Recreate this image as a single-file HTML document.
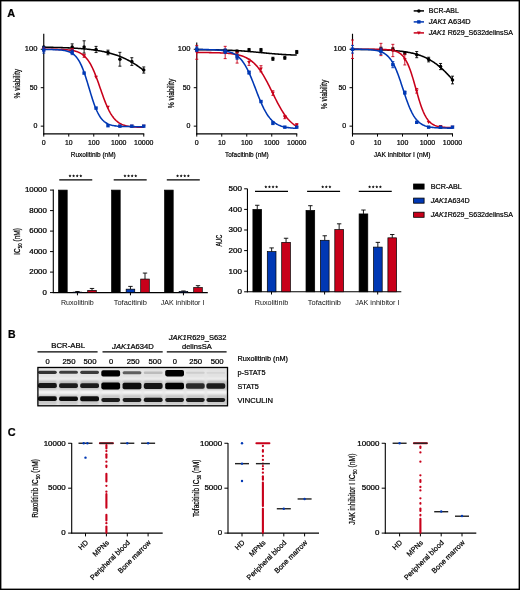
<!DOCTYPE html>
<html><head><meta charset="utf-8"><style>
html,body{margin:0;padding:0;background:#fff;}
svg{display:block;font-family:"Liberation Sans",sans-serif;will-change:transform;}
text{fill:#000;stroke:#000;stroke-width:0.22px;}
text.lt{fill:#111;stroke-width:0;}
</style></head><body>
<svg width="520" height="590" viewBox="0 0 520 590">
<rect width="520" height="590" fill="#fff"/>
<rect x="0.7" y="0.7" width="518.6" height="588.6" fill="none" stroke="#000" stroke-width="1.4"/>
<text x="7.30" y="16.90" font-size="10.9" font-weight="bold" fill="#000" >A</text>
<text x="8.00" y="338.00" font-size="10.5" font-weight="bold" fill="#000" >B</text>
<text x="7.70" y="435.70" font-size="10.9" font-weight="bold" fill="#000" >C</text>
<line x1="43.75" y1="33.75" x2="43.75" y2="134.45" stroke="#000" stroke-width="1.15" />
<line x1="43.20" y1="133.90" x2="144.25" y2="133.90" stroke="#000" stroke-width="1.15" />
<line x1="40.75" y1="126.15" x2="43.75" y2="126.15" stroke="#000" stroke-width="1.0" />
<text x="37.45" y="128.20" font-size="6.95" text-anchor="end" textLength="3.90" lengthAdjust="spacingAndGlyphs" fill="#1a1a1a" >0</text>
<line x1="40.75" y1="87.70" x2="43.75" y2="87.70" stroke="#000" stroke-width="1.0" />
<text x="37.45" y="89.75" font-size="6.95" text-anchor="end" textLength="7.80" lengthAdjust="spacingAndGlyphs" fill="#1a1a1a" >50</text>
<line x1="40.75" y1="49.25" x2="43.75" y2="49.25" stroke="#000" stroke-width="1.0" />
<text x="37.45" y="51.30" font-size="6.95" text-anchor="end" textLength="12.60" lengthAdjust="spacingAndGlyphs" fill="#1a1a1a" >100</text>
<line x1="43.75" y1="133.90" x2="43.75" y2="136.60" stroke="#000" stroke-width="1.0" />
<text x="43.75" y="145.45" font-size="6.95" text-anchor="middle" textLength="3.90" lengthAdjust="spacingAndGlyphs" fill="#1a1a1a" >0</text>
<line x1="68.75" y1="133.90" x2="68.75" y2="136.60" stroke="#000" stroke-width="1.0" />
<text x="68.75" y="145.45" font-size="6.95" text-anchor="middle" textLength="7.60" lengthAdjust="spacingAndGlyphs" fill="#1a1a1a" >10</text>
<line x1="93.75" y1="133.90" x2="93.75" y2="136.60" stroke="#000" stroke-width="1.0" />
<text x="93.75" y="145.45" font-size="6.95" text-anchor="middle" textLength="11.60" lengthAdjust="spacingAndGlyphs" fill="#1a1a1a" >100</text>
<line x1="118.75" y1="133.90" x2="118.75" y2="136.60" stroke="#000" stroke-width="1.0" />
<text x="118.75" y="145.45" font-size="6.95" text-anchor="middle" textLength="15.50" lengthAdjust="spacingAndGlyphs" fill="#1a1a1a" >1000</text>
<line x1="143.75" y1="133.90" x2="143.75" y2="136.60" stroke="#000" stroke-width="1.0" />
<text x="143.75" y="145.45" font-size="6.95" text-anchor="middle" textLength="19.30" lengthAdjust="spacingAndGlyphs" fill="#1a1a1a" >10000</text>
<text x="93.25" y="157.30" font-size="7.7" text-anchor="middle" textLength="45.00" lengthAdjust="spacingAndGlyphs" fill="#1a1a1a" >Ruxolitinib (nM)</text>
<text x="19.70" y="83.70" font-size="8.9" text-anchor="middle" textLength="29.60" lengthAdjust="spacingAndGlyphs" fill="#1a1a1a" transform="rotate(-90 19.70 83.70)" >% viability</text>
<path d="M43.75,47.23 L44.59,47.24 L45.43,47.26 L46.27,47.27 L47.11,47.28 L47.95,47.30 L48.79,47.31 L49.63,47.33 L50.47,47.34 L51.31,47.36 L52.15,47.37 L52.99,47.39 L53.83,47.41 L54.67,47.43 L55.51,47.45 L56.36,47.47 L57.20,47.49 L58.04,47.51 L58.88,47.53 L59.72,47.56 L60.56,47.58 L61.40,47.61 L62.24,47.64 L63.08,47.66 L63.92,47.69 L64.76,47.72 L65.60,47.75 L66.44,47.79 L67.28,47.82 L68.12,47.86 L68.96,47.89 L69.80,47.93 L70.64,47.97 L71.48,48.01 L72.32,48.05 L73.16,48.10 L74.00,48.14 L74.84,48.19 L75.68,48.24 L76.52,48.30 L77.36,48.35 L78.20,48.41 L79.04,48.46 L79.88,48.52 L80.72,48.59 L81.57,48.65 L82.41,48.72 L83.25,48.79 L84.09,48.86 L84.93,48.94 L85.77,49.02 L86.61,49.10 L87.45,49.19 L88.29,49.28 L89.13,49.37 L89.97,49.46 L90.81,49.56 L91.65,49.66 L92.49,49.77 L93.33,49.88 L94.17,50.00 L95.01,50.12 L95.85,50.24 L96.69,50.37 L97.53,50.50 L98.37,50.64 L99.21,50.78 L100.05,50.93 L100.89,51.08 L101.73,51.24 L102.57,51.41 L103.41,51.58 L104.25,51.76 L105.09,51.94 L105.93,52.13 L106.78,52.33 L107.62,52.53 L108.46,52.74 L109.30,52.96 L110.14,53.18 L110.98,53.42 L111.82,53.66 L112.66,53.91 L113.50,54.16 L114.34,54.43 L115.18,54.70 L116.02,54.99 L116.86,55.28 L117.70,55.58 L118.54,55.89 L119.38,56.22 L120.22,56.55 L121.06,56.89 L121.90,57.24 L122.74,57.60 L123.58,57.98 L124.42,58.36 L125.26,58.76 L126.10,59.16 L126.94,59.58 L127.78,60.01 L128.62,60.45 L129.46,60.90 L130.30,61.37 L131.14,61.84 L131.99,62.33 L132.83,62.83 L133.67,63.34 L134.51,63.87 L135.35,64.40 L136.19,64.95 L137.03,65.51 L137.87,66.09 L138.71,66.67 L139.55,67.27 L140.39,67.87 L141.23,68.49 L142.07,69.13 L142.91,69.77 L143.75,70.42" fill="none" stroke="#000" stroke-width="1.55"/>
<path d="M43.75,49.27 L44.59,49.27 L45.43,49.27 L46.27,49.28 L47.11,49.28 L47.95,49.28 L48.79,49.29 L49.63,49.29 L50.47,49.30 L51.31,49.31 L52.15,49.31 L52.99,49.32 L53.83,49.33 L54.67,49.34 L55.51,49.36 L56.36,49.37 L57.20,49.39 L58.04,49.40 L58.88,49.42 L59.72,49.45 L60.56,49.47 L61.40,49.50 L62.24,49.53 L63.08,49.57 L63.92,49.61 L64.76,49.66 L65.60,49.71 L66.44,49.78 L67.28,49.84 L68.12,49.92 L68.96,50.01 L69.80,50.11 L70.64,50.22 L71.48,50.35 L72.32,50.49 L73.16,50.65 L74.00,50.83 L74.84,51.04 L75.68,51.27 L76.52,51.52 L77.36,51.81 L78.20,52.14 L79.04,52.51 L79.88,52.92 L80.72,53.37 L81.57,53.89 L82.41,54.46 L83.25,55.09 L84.09,55.80 L84.93,56.59 L85.77,57.45 L86.61,58.41 L87.45,59.46 L88.29,60.61 L89.13,61.87 L89.97,63.24 L90.81,64.72 L91.65,66.31 L92.49,68.03 L93.33,69.85 L94.17,71.79 L95.01,73.83 L95.85,75.96 L96.69,78.19 L97.53,80.48 L98.37,82.83 L99.21,85.23 L100.05,87.65 L100.89,90.07 L101.73,92.48 L102.57,94.86 L103.41,97.19 L104.25,99.45 L105.09,101.64 L105.93,103.74 L106.78,105.74 L107.62,107.63 L108.46,109.41 L109.30,111.07 L110.14,112.62 L110.98,114.06 L111.82,115.38 L112.66,116.59 L113.50,117.70 L114.34,118.71 L115.18,119.63 L116.02,120.46 L116.86,121.22 L117.70,121.89 L118.54,122.50 L119.38,123.05 L120.22,123.54 L121.06,123.98 L121.90,124.37 L122.74,124.72 L123.58,125.03 L124.42,125.30 L125.26,125.55 L126.10,125.77 L126.94,125.96 L127.78,126.14 L128.62,126.29 L129.46,126.42 L130.30,126.54 L131.14,126.65 L131.99,126.75 L132.83,126.83 L133.67,126.90 L134.51,126.97 L135.35,127.03 L136.19,127.08 L137.03,127.12 L137.87,127.16 L138.71,127.20 L139.55,127.23 L140.39,127.26 L141.23,127.28 L142.07,127.30 L142.91,127.32 L143.75,127.34" fill="none" stroke="#c8001a" stroke-width="1.55"/>
<path d="M43.75,49.51 L44.59,49.51 L45.43,49.52 L46.27,49.53 L47.11,49.53 L47.95,49.54 L48.79,49.55 L49.63,49.56 L50.47,49.57 L51.31,49.59 L52.15,49.60 L52.99,49.62 L53.83,49.65 L54.67,49.67 L55.51,49.70 L56.36,49.74 L57.20,49.78 L58.04,49.82 L58.88,49.88 L59.72,49.94 L60.56,50.01 L61.40,50.10 L62.24,50.19 L63.08,50.30 L63.92,50.43 L64.76,50.58 L65.60,50.75 L66.44,50.95 L67.28,51.17 L68.12,51.43 L68.96,51.73 L69.80,52.07 L70.64,52.47 L71.48,52.92 L72.32,53.43 L73.16,54.02 L74.00,54.69 L74.84,55.44 L75.68,56.30 L76.52,57.27 L77.36,58.36 L78.20,59.57 L79.04,60.93 L79.88,62.43 L80.72,64.09 L81.57,65.90 L82.41,67.87 L83.25,70.00 L84.09,72.28 L84.93,74.70 L85.77,77.25 L86.61,79.90 L87.45,82.64 L88.29,85.43 L89.13,88.25 L89.97,91.07 L90.81,93.86 L91.65,96.59 L92.49,99.23 L93.33,101.76 L94.17,104.17 L95.01,106.43 L95.85,108.54 L96.69,110.49 L97.53,112.28 L98.37,113.92 L99.21,115.40 L100.05,116.74 L100.89,117.94 L101.73,119.01 L102.57,119.96 L103.41,120.81 L104.25,121.55 L105.09,122.21 L105.93,122.79 L106.78,123.29 L107.62,123.74 L108.46,124.12 L109.30,124.46 L110.14,124.75 L110.98,125.01 L111.82,125.23 L112.66,125.42 L113.50,125.59 L114.34,125.74 L115.18,125.86 L116.02,125.97 L116.86,126.07 L117.70,126.15 L118.54,126.22 L119.38,126.28 L120.22,126.33 L121.06,126.38 L121.90,126.42 L122.74,126.45 L123.58,126.48 L124.42,126.51 L125.26,126.53 L126.10,126.55 L126.94,126.57 L127.78,126.58 L128.62,126.59 L129.46,126.60 L130.30,126.61 L131.14,126.62 L131.99,126.63 L132.83,126.63 L133.67,126.64 L134.51,126.64 L135.35,126.65 L136.19,126.65 L137.03,126.65 L137.87,126.65 L138.71,126.66 L139.55,126.66 L140.39,126.66 L141.23,126.66 L142.07,126.66 L142.91,126.66 L143.75,126.66" fill="none" stroke="#0038b4" stroke-width="1.55"/>
<circle cx="43.75" cy="46.94" r="1.75" fill="#000"/>
<path d="M72.17,43.87V50.02M70.67,43.87h3M70.67,50.02h3" stroke="#000" stroke-width="0.9" fill="none"/>
<circle cx="72.17" cy="46.94" r="1.75" fill="#000"/>
<path d="M84.10,40.79V53.09M82.60,40.79h3M82.60,53.09h3" stroke="#000" stroke-width="0.9" fill="none"/>
<circle cx="84.10" cy="46.94" r="1.75" fill="#000"/>
<path d="M96.05,46.40V52.56M94.55,46.40h3M94.55,52.56h3" stroke="#000" stroke-width="0.9" fill="none"/>
<circle cx="96.05" cy="49.48" r="1.75" fill="#000"/>
<path d="M107.97,50.17V54.79M106.47,50.17h3M106.47,54.79h3" stroke="#000" stroke-width="0.9" fill="none"/>
<circle cx="107.97" cy="52.48" r="1.75" fill="#000"/>
<path d="M119.90,52.33V66.17M118.40,52.33h3M118.40,66.17h3" stroke="#000" stroke-width="0.9" fill="none"/>
<circle cx="119.90" cy="59.25" r="1.75" fill="#000"/>
<path d="M131.82,57.71V65.40M130.32,57.71h3M130.32,65.40h3" stroke="#000" stroke-width="0.9" fill="none"/>
<circle cx="131.82" cy="61.55" r="1.75" fill="#000"/>
<path d="M143.75,66.94V73.09M142.25,66.94h3M142.25,73.09h3" stroke="#000" stroke-width="0.9" fill="none"/>
<circle cx="143.75" cy="70.01" r="1.75" fill="#000"/>
<path d="M43.75,47.71V50.79M42.25,47.71h3M42.25,50.79h3" stroke="#c8001a" stroke-width="0.9" fill="none"/>
<path d="M41.85,47.95h3.8l-1.9,3.1z" fill="#c8001a"/>
<path d="M72.17,48.48V51.56M70.67,48.48h3M70.67,51.56h3" stroke="#c8001a" stroke-width="0.9" fill="none"/>
<path d="M70.27,48.72h3.8l-1.9,3.1z" fill="#c8001a"/>
<path d="M84.10,54.25V57.32M82.60,54.25h3M82.60,57.32h3" stroke="#c8001a" stroke-width="0.9" fill="none"/>
<path d="M82.20,54.49h3.8l-1.9,3.1z" fill="#c8001a"/>
<path d="M94.15,75.79h3.8l-1.9,3.1z" fill="#c8001a"/>
<path d="M106.07,105.63h3.8l-1.9,3.1z" fill="#c8001a"/>
<path d="M118.00,124.85h3.8l-1.9,3.1z" fill="#c8001a"/>
<path d="M129.92,124.85h3.8l-1.9,3.1z" fill="#c8001a"/>
<path d="M141.85,124.85h3.8l-1.9,3.1z" fill="#c8001a"/>
<path d="M43.75,46.94V53.09M42.25,46.94h3M42.25,53.09h3" stroke="#0038b4" stroke-width="0.9" fill="none"/>
<rect x="42.05" y="48.32" width="3.4" height="3.4" fill="#0038b4"/>
<path d="M72.17,50.02V54.63M70.67,50.02h3M70.67,54.63h3" stroke="#0038b4" stroke-width="0.9" fill="none"/>
<rect x="70.47" y="50.63" width="3.4" height="3.4" fill="#0038b4"/>
<rect x="82.40" y="71.39" width="3.4" height="3.4" fill="#0038b4"/>
<rect x="94.35" y="106.38" width="3.4" height="3.4" fill="#0038b4"/>
<rect x="106.27" y="123.99" width="3.4" height="3.4" fill="#0038b4"/>
<rect x="118.20" y="124.45" width="3.4" height="3.4" fill="#0038b4"/>
<rect x="130.12" y="124.45" width="3.4" height="3.4" fill="#0038b4"/>
<rect x="142.05" y="124.45" width="3.4" height="3.4" fill="#0038b4"/>
<line x1="196.75" y1="42.50" x2="196.75" y2="134.45" stroke="#000" stroke-width="1.15" />
<line x1="196.20" y1="133.90" x2="297.25" y2="133.90" stroke="#000" stroke-width="1.15" />
<line x1="193.75" y1="126.15" x2="196.75" y2="126.15" stroke="#000" stroke-width="1.0" />
<text x="190.45" y="128.20" font-size="6.95" text-anchor="end" textLength="3.90" lengthAdjust="spacingAndGlyphs" fill="#1a1a1a" >0</text>
<line x1="193.75" y1="87.70" x2="196.75" y2="87.70" stroke="#000" stroke-width="1.0" />
<text x="190.45" y="89.75" font-size="6.95" text-anchor="end" textLength="7.80" lengthAdjust="spacingAndGlyphs" fill="#1a1a1a" >50</text>
<line x1="193.75" y1="49.25" x2="196.75" y2="49.25" stroke="#000" stroke-width="1.0" />
<text x="190.45" y="51.30" font-size="6.95" text-anchor="end" textLength="12.60" lengthAdjust="spacingAndGlyphs" fill="#1a1a1a" >100</text>
<line x1="196.75" y1="133.90" x2="196.75" y2="136.60" stroke="#000" stroke-width="1.0" />
<text x="196.75" y="145.45" font-size="6.95" text-anchor="middle" textLength="3.90" lengthAdjust="spacingAndGlyphs" fill="#1a1a1a" >0</text>
<line x1="221.75" y1="133.90" x2="221.75" y2="136.60" stroke="#000" stroke-width="1.0" />
<text x="221.75" y="145.45" font-size="6.95" text-anchor="middle" textLength="7.60" lengthAdjust="spacingAndGlyphs" fill="#1a1a1a" >10</text>
<line x1="246.75" y1="133.90" x2="246.75" y2="136.60" stroke="#000" stroke-width="1.0" />
<text x="246.75" y="145.45" font-size="6.95" text-anchor="middle" textLength="11.60" lengthAdjust="spacingAndGlyphs" fill="#1a1a1a" >100</text>
<line x1="271.75" y1="133.90" x2="271.75" y2="136.60" stroke="#000" stroke-width="1.0" />
<text x="271.75" y="145.45" font-size="6.95" text-anchor="middle" textLength="15.50" lengthAdjust="spacingAndGlyphs" fill="#1a1a1a" >1000</text>
<line x1="296.75" y1="133.90" x2="296.75" y2="136.60" stroke="#000" stroke-width="1.0" />
<text x="296.75" y="145.45" font-size="6.95" text-anchor="middle" textLength="19.30" lengthAdjust="spacingAndGlyphs" fill="#1a1a1a" >10000</text>
<text x="246.90" y="157.30" font-size="7.7" text-anchor="middle" textLength="43.75" lengthAdjust="spacingAndGlyphs" fill="#1a1a1a" >Tofacitinib (nM)</text>
<text x="174.00" y="93.50" font-size="8.9" text-anchor="middle" textLength="29.60" lengthAdjust="spacingAndGlyphs" fill="#1a1a1a" transform="rotate(-90 174.00 93.50)" >% viability</text>
<path d="M196.75,49.59 L197.59,49.60 L198.43,49.60 L199.27,49.61 L200.11,49.62 L200.95,49.62 L201.79,49.63 L202.63,49.64 L203.47,49.65 L204.31,49.66 L205.15,49.66 L205.99,49.67 L206.83,49.68 L207.67,49.70 L208.51,49.71 L209.36,49.72 L210.20,49.73 L211.04,49.74 L211.88,49.76 L212.72,49.77 L213.56,49.79 L214.40,49.80 L215.24,49.82 L216.08,49.84 L216.92,49.85 L217.76,49.87 L218.60,49.89 L219.44,49.91 L220.28,49.93 L221.12,49.96 L221.96,49.98 L222.80,50.01 L223.64,50.03 L224.48,50.06 L225.32,50.09 L226.16,50.12 L227.00,50.15 L227.84,50.18 L228.68,50.21 L229.52,50.25 L230.36,50.28 L231.20,50.32 L232.04,50.36 L232.88,50.40 L233.72,50.44 L234.57,50.49 L235.41,50.53 L236.25,50.58 L237.09,50.63 L237.93,50.68 L238.77,50.73 L239.61,50.78 L240.45,50.84 L241.29,50.89 L242.13,50.95 L242.97,51.01 L243.81,51.07 L244.65,51.14 L245.49,51.20 L246.33,51.27 L247.17,51.34 L248.01,51.40 L248.85,51.48 L249.69,51.55 L250.53,51.62 L251.37,51.70 L252.21,51.77 L253.05,51.85 L253.89,51.92 L254.73,52.00 L255.57,52.08 L256.41,52.16 L257.25,52.24 L258.09,52.32 L258.93,52.41 L259.78,52.49 L260.62,52.57 L261.46,52.65 L262.30,52.73 L263.14,52.81 L263.98,52.89 L264.82,52.98 L265.66,53.06 L266.50,53.13 L267.34,53.21 L268.18,53.29 L269.02,53.37 L269.86,53.44 L270.70,53.52 L271.54,53.59 L272.38,53.67 L273.22,53.74 L274.06,53.81 L274.90,53.87 L275.74,53.94 L276.58,54.01 L277.42,54.07 L278.26,54.13 L279.10,54.19 L279.94,54.25 L280.78,54.31 L281.62,54.36 L282.46,54.42 L283.30,54.47 L284.14,54.52 L284.99,54.57 L285.83,54.62 L286.67,54.66 L287.51,54.71 L288.35,54.75 L289.19,54.79 L290.03,54.83 L290.87,54.87 L291.71,54.90 L292.55,54.94 L293.39,54.97 L294.23,55.01 L295.07,55.04 L295.91,55.07 L296.75,55.10" fill="none" stroke="#000" stroke-width="1.55"/>
<path d="M196.75,52.52 L197.59,52.52 L198.43,52.52 L199.27,52.53 L200.11,52.53 L200.95,52.54 L201.79,52.54 L202.63,52.55 L203.47,52.55 L204.31,52.56 L205.15,52.57 L205.99,52.57 L206.83,52.58 L207.67,52.59 L208.51,52.60 L209.36,52.61 L210.20,52.62 L211.04,52.64 L211.88,52.65 L212.72,52.67 L213.56,52.68 L214.40,52.70 L215.24,52.72 L216.08,52.74 L216.92,52.76 L217.76,52.79 L218.60,52.82 L219.44,52.85 L220.28,52.88 L221.12,52.91 L221.96,52.95 L222.80,52.99 L223.64,53.04 L224.48,53.09 L225.32,53.14 L226.16,53.20 L227.00,53.26 L227.84,53.33 L228.68,53.41 L229.52,53.49 L230.36,53.58 L231.20,53.68 L232.04,53.78 L232.88,53.90 L233.72,54.02 L234.57,54.15 L235.41,54.30 L236.25,54.46 L237.09,54.63 L237.93,54.82 L238.77,55.02 L239.61,55.24 L240.45,55.47 L241.29,55.73 L242.13,56.00 L242.97,56.30 L243.81,56.63 L244.65,56.98 L245.49,57.35 L246.33,57.76 L247.17,58.19 L248.01,58.66 L248.85,59.17 L249.69,59.71 L250.53,60.29 L251.37,60.92 L252.21,61.58 L253.05,62.29 L253.89,63.05 L254.73,63.86 L255.57,64.72 L256.41,65.63 L257.25,66.60 L258.09,67.62 L258.93,68.70 L259.78,69.83 L260.62,71.02 L261.46,72.26 L262.30,73.56 L263.14,74.92 L263.98,76.32 L264.82,77.78 L265.66,79.28 L266.50,80.82 L267.34,82.41 L268.18,84.03 L269.02,85.68 L269.86,87.35 L270.70,89.04 L271.54,90.74 L272.38,92.46 L273.22,94.17 L274.06,95.87 L274.90,97.57 L275.74,99.24 L276.58,100.90 L277.42,102.52 L278.26,104.11 L279.10,105.66 L279.94,107.17 L280.78,108.63 L281.62,110.05 L282.46,111.41 L283.30,112.72 L284.14,113.97 L284.99,115.17 L285.83,116.31 L286.67,117.40 L287.51,118.43 L288.35,119.40 L289.19,120.32 L290.03,121.19 L290.87,122.01 L291.71,122.78 L292.55,123.50 L293.39,124.17 L294.23,124.80 L295.07,125.39 L295.91,125.94 L296.75,126.45" fill="none" stroke="#c8001a" stroke-width="1.55"/>
<path d="M196.75,49.51 L197.59,49.52 L198.43,49.52 L199.27,49.53 L200.11,49.53 L200.95,49.54 L201.79,49.55 L202.63,49.55 L203.47,49.56 L204.31,49.57 L205.15,49.58 L205.99,49.59 L206.83,49.61 L207.67,49.62 L208.51,49.64 L209.36,49.66 L210.20,49.68 L211.04,49.70 L211.88,49.72 L212.72,49.75 L213.56,49.78 L214.40,49.82 L215.24,49.86 L216.08,49.90 L216.92,49.95 L217.76,50.01 L218.60,50.07 L219.44,50.14 L220.28,50.21 L221.12,50.30 L221.96,50.40 L222.80,50.50 L223.64,50.62 L224.48,50.75 L225.32,50.90 L226.16,51.06 L227.00,51.24 L227.84,51.44 L228.68,51.67 L229.52,51.91 L230.36,52.19 L231.20,52.50 L232.04,52.83 L232.88,53.21 L233.72,53.62 L234.57,54.08 L235.41,54.59 L236.25,55.14 L237.09,55.75 L237.93,56.42 L238.77,57.16 L239.61,57.96 L240.45,58.84 L241.29,59.80 L242.13,60.83 L242.97,61.96 L243.81,63.17 L244.65,64.47 L245.49,65.86 L246.33,67.35 L247.17,68.93 L248.01,70.60 L248.85,72.37 L249.69,74.21 L250.53,76.14 L251.37,78.13 L252.21,80.19 L253.05,82.30 L253.89,84.45 L254.73,86.63 L255.57,88.82 L256.41,91.02 L257.25,93.20 L258.09,95.36 L258.93,97.48 L259.78,99.55 L260.62,101.56 L261.46,103.50 L262.30,105.37 L263.14,107.15 L263.98,108.85 L264.82,110.45 L265.66,111.96 L266.50,113.38 L267.34,114.70 L268.18,115.93 L269.02,117.08 L269.86,118.13 L270.70,119.11 L271.54,120.00 L272.38,120.82 L273.22,121.58 L274.06,122.26 L274.90,122.89 L275.74,123.46 L276.58,123.97 L277.42,124.44 L278.26,124.87 L279.10,125.25 L279.94,125.60 L280.78,125.91 L281.62,126.19 L282.46,126.45 L283.30,126.68 L284.14,126.88 L284.99,127.07 L285.83,127.24 L286.67,127.39 L287.51,127.52 L288.35,127.64 L289.19,127.75 L290.03,127.85 L290.87,127.94 L291.71,128.02 L292.55,128.09 L293.39,128.15 L294.23,128.21 L295.07,128.26 L295.91,128.30 L296.75,128.34" fill="none" stroke="#0038b4" stroke-width="1.55"/>
<circle cx="196.75" cy="49.48" r="1.75" fill="#000"/>
<path d="M225.18,49.25V52.33M223.68,49.25h3M223.68,52.33h3" stroke="#000" stroke-width="0.9" fill="none"/>
<circle cx="225.18" cy="50.79" r="1.75" fill="#000"/>
<path d="M237.10,50.02V53.09M235.60,50.02h3M235.60,53.09h3" stroke="#000" stroke-width="0.9" fill="none"/>
<circle cx="237.10" cy="51.56" r="1.75" fill="#000"/>
<path d="M249.05,48.48V51.56M247.55,48.48h3M247.55,51.56h3" stroke="#000" stroke-width="0.9" fill="none"/>
<circle cx="249.05" cy="50.02" r="1.75" fill="#000"/>
<path d="M260.98,48.48V51.56M259.48,48.48h3M259.48,51.56h3" stroke="#000" stroke-width="0.9" fill="none"/>
<circle cx="260.98" cy="50.02" r="1.75" fill="#000"/>
<path d="M272.90,57.25V60.32M271.40,57.25h3M271.40,60.32h3" stroke="#000" stroke-width="0.9" fill="none"/>
<circle cx="272.90" cy="58.79" r="1.75" fill="#000"/>
<path d="M284.82,56.17V59.25M283.32,56.17h3M283.32,59.25h3" stroke="#000" stroke-width="0.9" fill="none"/>
<circle cx="284.82" cy="57.71" r="1.75" fill="#000"/>
<path d="M296.75,50.48V53.56M295.25,50.48h3M295.25,53.56h3" stroke="#000" stroke-width="0.9" fill="none"/>
<circle cx="296.75" cy="52.02" r="1.75" fill="#000"/>
<path d="M196.75,45.41V59.25M195.25,45.41h3M195.25,59.25h3" stroke="#c8001a" stroke-width="0.9" fill="none"/>
<path d="M194.85,51.03h3.8l-1.9,3.1z" fill="#c8001a"/>
<path d="M225.18,46.33V58.63M223.68,46.33h3M223.68,58.63h3" stroke="#c8001a" stroke-width="0.9" fill="none"/>
<path d="M223.28,51.18h3.8l-1.9,3.1z" fill="#c8001a"/>
<path d="M237.10,52.33V63.09M235.60,52.33h3M235.60,63.09h3" stroke="#c8001a" stroke-width="0.9" fill="none"/>
<path d="M235.20,56.41h3.8l-1.9,3.1z" fill="#c8001a"/>
<path d="M249.05,59.25V65.40M247.55,59.25h3M247.55,65.40h3" stroke="#c8001a" stroke-width="0.9" fill="none"/>
<path d="M247.15,61.02h3.8l-1.9,3.1z" fill="#c8001a"/>
<path d="M260.98,65.71V71.86M259.48,65.71h3M259.48,71.86h3" stroke="#c8001a" stroke-width="0.9" fill="none"/>
<path d="M259.08,67.48h3.8l-1.9,3.1z" fill="#c8001a"/>
<path d="M272.90,90.78V95.39M271.40,90.78h3M271.40,95.39h3" stroke="#c8001a" stroke-width="0.9" fill="none"/>
<path d="M271.00,91.78h3.8l-1.9,3.1z" fill="#c8001a"/>
<path d="M284.82,115.61V118.69M283.32,115.61h3M283.32,118.69h3" stroke="#c8001a" stroke-width="0.9" fill="none"/>
<path d="M282.93,115.85h3.8l-1.9,3.1z" fill="#c8001a"/>
<path d="M296.75,123.61V126.69M295.25,123.61h3M295.25,126.69h3" stroke="#c8001a" stroke-width="0.9" fill="none"/>
<path d="M294.85,123.85h3.8l-1.9,3.1z" fill="#c8001a"/>
<path d="M196.75,46.94V51.56M195.25,46.94h3M195.25,51.56h3" stroke="#0038b4" stroke-width="0.9" fill="none"/>
<rect x="195.05" y="47.55" width="3.4" height="3.4" fill="#0038b4"/>
<path d="M225.18,48.94V53.56M223.68,48.94h3M223.68,53.56h3" stroke="#0038b4" stroke-width="0.9" fill="none"/>
<rect x="223.48" y="49.55" width="3.4" height="3.4" fill="#0038b4"/>
<path d="M237.10,54.63V59.25M235.60,54.63h3M235.60,59.25h3" stroke="#0038b4" stroke-width="0.9" fill="none"/>
<rect x="235.40" y="55.24" width="3.4" height="3.4" fill="#0038b4"/>
<path d="M249.05,71.01V74.09M247.55,71.01h3M247.55,74.09h3" stroke="#0038b4" stroke-width="0.9" fill="none"/>
<rect x="247.35" y="70.85" width="3.4" height="3.4" fill="#0038b4"/>
<rect x="259.28" y="99.84" width="3.4" height="3.4" fill="#0038b4"/>
<path d="M272.90,121.54V124.61M271.40,121.54h3M271.40,124.61h3" stroke="#0038b4" stroke-width="0.9" fill="none"/>
<rect x="271.20" y="121.37" width="3.4" height="3.4" fill="#0038b4"/>
<rect x="283.12" y="125.45" width="3.4" height="3.4" fill="#0038b4"/>
<rect x="295.05" y="125.45" width="3.4" height="3.4" fill="#0038b4"/>
<line x1="352.50" y1="33.75" x2="352.50" y2="134.45" stroke="#000" stroke-width="1.15" />
<line x1="351.95" y1="133.90" x2="453.00" y2="133.90" stroke="#000" stroke-width="1.15" />
<line x1="349.50" y1="126.15" x2="352.50" y2="126.15" stroke="#000" stroke-width="1.0" />
<text x="346.20" y="128.20" font-size="6.95" text-anchor="end" textLength="3.90" lengthAdjust="spacingAndGlyphs" fill="#1a1a1a" >0</text>
<line x1="349.50" y1="87.70" x2="352.50" y2="87.70" stroke="#000" stroke-width="1.0" />
<text x="346.20" y="89.75" font-size="6.95" text-anchor="end" textLength="7.80" lengthAdjust="spacingAndGlyphs" fill="#1a1a1a" >50</text>
<line x1="349.50" y1="49.25" x2="352.50" y2="49.25" stroke="#000" stroke-width="1.0" />
<text x="346.20" y="51.30" font-size="6.95" text-anchor="end" textLength="12.60" lengthAdjust="spacingAndGlyphs" fill="#1a1a1a" >100</text>
<line x1="352.50" y1="133.90" x2="352.50" y2="136.60" stroke="#000" stroke-width="1.0" />
<text x="352.50" y="145.45" font-size="6.95" text-anchor="middle" textLength="3.90" lengthAdjust="spacingAndGlyphs" fill="#1a1a1a" >0</text>
<line x1="377.50" y1="133.90" x2="377.50" y2="136.60" stroke="#000" stroke-width="1.0" />
<text x="377.50" y="145.45" font-size="6.95" text-anchor="middle" textLength="7.60" lengthAdjust="spacingAndGlyphs" fill="#1a1a1a" >10</text>
<line x1="402.50" y1="133.90" x2="402.50" y2="136.60" stroke="#000" stroke-width="1.0" />
<text x="402.50" y="145.45" font-size="6.95" text-anchor="middle" textLength="11.60" lengthAdjust="spacingAndGlyphs" fill="#1a1a1a" >100</text>
<line x1="427.50" y1="133.90" x2="427.50" y2="136.60" stroke="#000" stroke-width="1.0" />
<text x="427.50" y="145.45" font-size="6.95" text-anchor="middle" textLength="15.50" lengthAdjust="spacingAndGlyphs" fill="#1a1a1a" >1000</text>
<line x1="452.50" y1="133.90" x2="452.50" y2="136.60" stroke="#000" stroke-width="1.0" />
<text x="452.50" y="145.45" font-size="6.95" text-anchor="middle" textLength="19.30" lengthAdjust="spacingAndGlyphs" fill="#1a1a1a" >10000</text>
<text x="402.10" y="157.30" font-size="7.7" text-anchor="middle" textLength="56.75" lengthAdjust="spacingAndGlyphs" fill="#1a1a1a" >JAK inhibitor I (nM)</text>
<text x="326.90" y="94.50" font-size="8.9" text-anchor="middle" textLength="29.60" lengthAdjust="spacingAndGlyphs" fill="#1a1a1a" transform="rotate(-90 326.90 94.50)" >% viability</text>
<path d="M352.50,49.35 L353.34,49.36 L354.18,49.36 L355.02,49.37 L355.86,49.37 L356.70,49.38 L357.54,49.39 L358.38,49.39 L359.22,49.40 L360.06,49.41 L360.90,49.42 L361.74,49.43 L362.58,49.44 L363.42,49.45 L364.26,49.46 L365.11,49.47 L365.95,49.48 L366.79,49.49 L367.63,49.51 L368.47,49.52 L369.31,49.53 L370.15,49.55 L370.99,49.57 L371.83,49.58 L372.67,49.60 L373.51,49.62 L374.35,49.64 L375.19,49.66 L376.03,49.68 L376.87,49.70 L377.71,49.73 L378.55,49.75 L379.39,49.78 L380.23,49.81 L381.07,49.84 L381.91,49.87 L382.75,49.90 L383.59,49.94 L384.43,49.97 L385.27,50.01 L386.11,50.05 L386.95,50.09 L387.79,50.14 L388.63,50.19 L389.47,50.24 L390.32,50.29 L391.16,50.34 L392.00,50.40 L392.84,50.46 L393.68,50.52 L394.52,50.59 L395.36,50.66 L396.20,50.74 L397.04,50.82 L397.88,50.90 L398.72,50.98 L399.56,51.07 L400.40,51.17 L401.24,51.27 L402.08,51.38 L402.92,51.49 L403.76,51.60 L404.60,51.72 L405.44,51.85 L406.28,51.99 L407.12,52.13 L407.96,52.28 L408.80,52.43 L409.64,52.60 L410.48,52.77 L411.32,52.95 L412.16,53.13 L413.00,53.33 L413.84,53.54 L414.68,53.76 L415.53,53.98 L416.37,54.22 L417.21,54.47 L418.05,54.73 L418.89,55.00 L419.73,55.28 L420.57,55.58 L421.41,55.89 L422.25,56.22 L423.09,56.55 L423.93,56.91 L424.77,57.27 L425.61,57.66 L426.45,58.06 L427.29,58.47 L428.13,58.90 L428.97,59.35 L429.81,59.82 L430.65,60.31 L431.49,60.81 L432.33,61.33 L433.17,61.88 L434.01,62.44 L434.85,63.02 L435.69,63.62 L436.53,64.24 L437.37,64.88 L438.21,65.54 L439.05,66.22 L439.89,66.92 L440.74,67.64 L441.58,68.38 L442.42,69.14 L443.26,69.92 L444.10,70.72 L444.94,71.54 L445.78,72.38 L446.62,73.23 L447.46,74.10 L448.30,74.99 L449.14,75.89 L449.98,76.81 L450.82,77.74 L451.66,78.68 L452.50,79.63" fill="none" stroke="#000" stroke-width="1.55"/>
<path d="M352.50,49.25 L353.34,49.25 L354.18,49.25 L355.02,49.25 L355.86,49.25 L356.70,49.25 L357.54,49.25 L358.38,49.25 L359.22,49.25 L360.06,49.25 L360.90,49.25 L361.74,49.25 L362.58,49.25 L363.42,49.26 L364.26,49.26 L365.11,49.26 L365.95,49.26 L366.79,49.26 L367.63,49.26 L368.47,49.26 L369.31,49.27 L370.15,49.27 L370.99,49.27 L371.83,49.28 L372.67,49.28 L373.51,49.29 L374.35,49.29 L375.19,49.30 L376.03,49.31 L376.87,49.32 L377.71,49.33 L378.55,49.34 L379.39,49.35 L380.23,49.37 L381.07,49.39 L381.91,49.41 L382.75,49.44 L383.59,49.47 L384.43,49.51 L385.27,49.55 L386.11,49.60 L386.95,49.66 L387.79,49.72 L388.63,49.80 L389.47,49.89 L390.32,50.00 L391.16,50.12 L392.00,50.26 L392.84,50.43 L393.68,50.62 L394.52,50.84 L395.36,51.10 L396.20,51.40 L397.04,51.74 L397.88,52.13 L398.72,52.59 L399.56,53.12 L400.40,53.72 L401.24,54.41 L402.08,55.20 L402.92,56.09 L403.76,57.11 L404.60,58.26 L405.44,59.55 L406.28,61.00 L407.12,62.61 L407.96,64.40 L408.80,66.35 L409.64,68.49 L410.48,70.79 L411.32,73.27 L412.16,75.89 L413.00,78.64 L413.84,81.50 L414.68,84.44 L415.53,87.43 L416.37,90.43 L417.21,93.41 L418.05,96.33 L418.89,99.16 L419.73,101.88 L420.57,104.46 L421.41,106.88 L422.25,109.14 L423.09,111.23 L423.93,113.13 L424.77,114.87 L425.61,116.43 L426.45,117.83 L427.29,119.08 L428.13,120.19 L428.97,121.18 L429.81,122.04 L430.65,122.80 L431.49,123.46 L432.33,124.04 L433.17,124.55 L434.01,124.99 L434.85,125.37 L435.69,125.70 L436.53,125.98 L437.37,126.23 L438.21,126.44 L439.05,126.62 L439.89,126.78 L440.74,126.92 L441.58,127.03 L442.42,127.13 L443.26,127.22 L444.10,127.30 L444.94,127.36 L445.78,127.42 L446.62,127.46 L447.46,127.50 L448.30,127.54 L449.14,127.57 L449.98,127.59 L450.82,127.62 L451.66,127.64 L452.50,127.65" fill="none" stroke="#c8001a" stroke-width="1.55"/>
<path d="M352.50,49.28 L353.34,49.28 L354.18,49.29 L355.02,49.30 L355.86,49.30 L356.70,49.31 L357.54,49.32 L358.38,49.33 L359.22,49.34 L360.06,49.35 L360.90,49.36 L361.74,49.38 L362.58,49.40 L363.42,49.42 L364.26,49.44 L365.11,49.47 L365.95,49.50 L366.79,49.53 L367.63,49.57 L368.47,49.62 L369.31,49.67 L370.15,49.73 L370.99,49.79 L371.83,49.87 L372.67,49.95 L373.51,50.05 L374.35,50.16 L375.19,50.29 L376.03,50.43 L376.87,50.59 L377.71,50.78 L378.55,50.99 L379.39,51.22 L380.23,51.49 L381.07,51.80 L381.91,52.14 L382.75,52.53 L383.59,52.96 L384.43,53.45 L385.27,54.01 L386.11,54.63 L386.95,55.32 L387.79,56.10 L388.63,56.96 L389.47,57.92 L390.32,58.99 L391.16,60.16 L392.00,61.45 L392.84,62.86 L393.68,64.40 L394.52,66.07 L395.36,67.87 L396.20,69.80 L397.04,71.85 L397.88,74.02 L398.72,76.30 L399.56,78.67 L400.40,81.12 L401.24,83.64 L402.08,86.20 L402.92,88.78 L403.76,91.36 L404.60,93.92 L405.44,96.43 L406.28,98.88 L407.12,101.25 L407.96,103.53 L408.80,105.69 L409.64,107.74 L410.48,109.66 L411.32,111.45 L412.16,113.11 L413.00,114.64 L413.84,116.05 L414.68,117.34 L415.53,118.50 L416.37,119.56 L417.21,120.52 L418.05,121.38 L418.89,122.15 L419.73,122.84 L420.57,123.46 L421.41,124.01 L422.25,124.50 L423.09,124.93 L423.93,125.32 L424.77,125.66 L425.61,125.96 L426.45,126.23 L427.29,126.46 L428.13,126.67 L428.97,126.85 L429.81,127.01 L430.65,127.16 L431.49,127.28 L432.33,127.39 L433.17,127.49 L434.01,127.57 L434.85,127.65 L435.69,127.71 L436.53,127.77 L437.37,127.82 L438.21,127.87 L439.05,127.91 L439.89,127.94 L440.74,127.97 L441.58,128.00 L442.42,128.02 L443.26,128.04 L444.10,128.06 L444.94,128.07 L445.78,128.09 L446.62,128.10 L447.46,128.11 L448.30,128.12 L449.14,128.13 L449.98,128.14 L450.82,128.14 L451.66,128.15 L452.50,128.15" fill="none" stroke="#0038b4" stroke-width="1.55"/>
<circle cx="352.50" cy="49.25" r="1.75" fill="#000"/>
<path d="M380.93,47.17V50.25M379.43,47.17h3M379.43,50.25h3" stroke="#000" stroke-width="0.9" fill="none"/>
<circle cx="380.93" cy="48.71" r="1.75" fill="#000"/>
<path d="M392.85,47.71V50.79M391.35,47.71h3M391.35,50.79h3" stroke="#000" stroke-width="0.9" fill="none"/>
<circle cx="392.85" cy="49.25" r="1.75" fill="#000"/>
<path d="M404.80,51.56V54.63M403.30,51.56h3M403.30,54.63h3" stroke="#000" stroke-width="0.9" fill="none"/>
<circle cx="404.80" cy="53.09" r="1.75" fill="#000"/>
<path d="M416.73,51.56V57.71M415.23,51.56h3M415.23,57.71h3" stroke="#000" stroke-width="0.9" fill="none"/>
<circle cx="416.73" cy="54.63" r="1.75" fill="#000"/>
<path d="M428.65,57.25V61.86M427.15,57.25h3M427.15,61.86h3" stroke="#000" stroke-width="0.9" fill="none"/>
<circle cx="428.65" cy="59.55" r="1.75" fill="#000"/>
<path d="M440.57,63.48V69.63M439.07,63.48h3M439.07,69.63h3" stroke="#000" stroke-width="0.9" fill="none"/>
<circle cx="440.57" cy="66.55" r="1.75" fill="#000"/>
<path d="M452.50,76.17V83.86M451.00,76.17h3M451.00,83.86h3" stroke="#000" stroke-width="0.9" fill="none"/>
<circle cx="452.50" cy="80.01" r="1.75" fill="#000"/>
<path d="M352.50,40.02V58.48M351.00,40.02h3M351.00,58.48h3" stroke="#c8001a" stroke-width="0.9" fill="none"/>
<path d="M350.60,47.95h3.8l-1.9,3.1z" fill="#c8001a"/>
<path d="M380.93,43.33V55.63M379.43,43.33h3M379.43,55.63h3" stroke="#c8001a" stroke-width="0.9" fill="none"/>
<path d="M379.03,48.18h3.8l-1.9,3.1z" fill="#c8001a"/>
<path d="M392.85,44.33V56.63M391.35,44.33h3M391.35,56.63h3" stroke="#c8001a" stroke-width="0.9" fill="none"/>
<path d="M390.95,49.18h3.8l-1.9,3.1z" fill="#c8001a"/>
<path d="M404.80,54.17V64.94M403.30,54.17h3M403.30,64.94h3" stroke="#c8001a" stroke-width="0.9" fill="none"/>
<path d="M402.90,58.25h3.8l-1.9,3.1z" fill="#c8001a"/>
<path d="M416.73,88.47V93.08M415.23,88.47h3M415.23,93.08h3" stroke="#c8001a" stroke-width="0.9" fill="none"/>
<path d="M414.83,89.48h3.8l-1.9,3.1z" fill="#c8001a"/>
<path d="M426.75,121.01h3.8l-1.9,3.1z" fill="#c8001a"/>
<path d="M438.68,125.08h3.8l-1.9,3.1z" fill="#c8001a"/>
<path d="M450.60,125.85h3.8l-1.9,3.1z" fill="#c8001a"/>
<path d="M352.50,45.41V53.09M351.00,45.41h3M351.00,53.09h3" stroke="#0038b4" stroke-width="0.9" fill="none"/>
<rect x="350.80" y="47.55" width="3.4" height="3.4" fill="#0038b4"/>
<path d="M380.93,48.17V54.33M379.43,48.17h3M379.43,54.33h3" stroke="#0038b4" stroke-width="0.9" fill="none"/>
<rect x="379.23" y="49.55" width="3.4" height="3.4" fill="#0038b4"/>
<path d="M392.85,61.55V67.71M391.35,61.55h3M391.35,67.71h3" stroke="#0038b4" stroke-width="0.9" fill="none"/>
<rect x="391.15" y="62.93" width="3.4" height="3.4" fill="#0038b4"/>
<path d="M404.80,91.08V94.16M403.30,91.08h3M403.30,94.16h3" stroke="#0038b4" stroke-width="0.9" fill="none"/>
<rect x="403.10" y="90.92" width="3.4" height="3.4" fill="#0038b4"/>
<rect x="415.03" y="120.61" width="3.4" height="3.4" fill="#0038b4"/>
<rect x="426.95" y="125.45" width="3.4" height="3.4" fill="#0038b4"/>
<rect x="438.88" y="125.60" width="3.4" height="3.4" fill="#0038b4"/>
<rect x="450.80" y="125.45" width="3.4" height="3.4" fill="#0038b4"/>
<line x1="413.70" y1="10.90" x2="424.00" y2="10.90" stroke="#000" stroke-width="1.5" />
<circle cx="418.85" cy="10.90" r="1.75" fill="#000"/>
<text x="428.80" y="12.90" font-size="7.4" textLength="30.00" lengthAdjust="spacingAndGlyphs" fill="#1a1a1a" >BCR-ABL</text>
<line x1="413.70" y1="21.90" x2="424.00" y2="21.90" stroke="#0038b4" stroke-width="1.5" />
<rect x="417.15" y="20.20" width="3.4" height="3.4" fill="#0038b4"/>
<text x="428.8" y="23.90" font-size="7.4" fill="#1a1a1a"><tspan font-style="italic">JAK1</tspan> A634D</text>
<line x1="413.70" y1="32.90" x2="424.00" y2="32.90" stroke="#c8001a" stroke-width="1.5" />
<path d="M416.95,31.60h3.8l-1.9,3.1z" fill="#c8001a"/>
<text x="428.8" y="34.90" font-size="7.4" fill="#1a1a1a" textLength="84.2" lengthAdjust="spacingAndGlyphs"><tspan font-style="italic">JAK1</tspan> R629_S632delinsSA</text>
<line x1="53.30" y1="189.60" x2="53.30" y2="293.10" stroke="#000" stroke-width="1.1" />
<line x1="52.80" y1="292.60" x2="207.80" y2="292.60" stroke="#000" stroke-width="1.1" />
<line x1="50.00" y1="292.60" x2="53.30" y2="292.60" stroke="#000" stroke-width="1.0" />
<text x="46.90" y="294.90" font-size="6.4" text-anchor="end" textLength="4.40" lengthAdjust="spacingAndGlyphs" fill="#1a1a1a" >0</text>
<line x1="50.00" y1="272.10" x2="53.30" y2="272.10" stroke="#000" stroke-width="1.0" />
<text x="46.90" y="274.40" font-size="6.4" text-anchor="end" textLength="17.60" lengthAdjust="spacingAndGlyphs" fill="#1a1a1a" >2000</text>
<line x1="50.00" y1="251.60" x2="53.30" y2="251.60" stroke="#000" stroke-width="1.0" />
<text x="46.90" y="253.90" font-size="6.4" text-anchor="end" textLength="17.60" lengthAdjust="spacingAndGlyphs" fill="#1a1a1a" >4000</text>
<line x1="50.00" y1="231.10" x2="53.30" y2="231.10" stroke="#000" stroke-width="1.0" />
<text x="46.90" y="233.40" font-size="6.4" text-anchor="end" textLength="17.60" lengthAdjust="spacingAndGlyphs" fill="#1a1a1a" >6000</text>
<line x1="50.00" y1="210.60" x2="53.30" y2="210.60" stroke="#000" stroke-width="1.0" />
<text x="46.90" y="212.90" font-size="6.4" text-anchor="end" textLength="17.60" lengthAdjust="spacingAndGlyphs" fill="#1a1a1a" >8000</text>
<line x1="50.00" y1="190.10" x2="53.30" y2="190.10" stroke="#000" stroke-width="1.0" />
<text x="46.90" y="192.40" font-size="6.4" text-anchor="end" textLength="22.00" lengthAdjust="spacingAndGlyphs" fill="#1a1a1a" >10000</text>
<text x="19.6" y="241.4" font-size="9.2" fill="#1a1a1a" text-anchor="middle" transform="rotate(-90 19.6 241.4)" textLength="26.7" lengthAdjust="spacingAndGlyphs">IC<tspan font-size="6" dy="2">50</tspan><tspan dy="-2"> (nM)</tspan></text>
<rect x="58.60" y="190.10" width="8.60" height="102.50" fill="#000" stroke="#000" stroke-width="0.7"/>
<path d="M77.45,292.14V291.52M75.25,291.52h4.4" stroke="#000" stroke-width="0.9" fill="none"/>
<rect x="73.15" y="292.14" width="8.60" height="0.46" fill="#0038b4" stroke="#000" stroke-width="0.7"/>
<path d="M92.00,290.40V288.45M89.80,288.45h4.4" stroke="#000" stroke-width="0.9" fill="none"/>
<rect x="87.70" y="290.40" width="8.60" height="2.20" fill="#c8001a" stroke="#000" stroke-width="0.7"/>
<line x1="77.45" y1="292.60" x2="77.45" y2="295.30" stroke="#000" stroke-width="1.0" />
<line x1="59.25" y1="179.90" x2="92.25" y2="179.90" stroke="#000" stroke-width="1.2" />
<polygon points="70.00,174.35 70.44,175.29 71.47,175.42 70.71,176.13 70.91,177.15 70.00,176.65 69.09,177.15 69.29,176.13 68.53,175.42 69.56,175.29" fill="#111"/>
<polygon points="73.60,174.35 74.04,175.29 75.07,175.42 74.31,176.13 74.51,177.15 73.60,176.65 72.69,177.15 72.89,176.13 72.13,175.42 73.16,175.29" fill="#111"/>
<polygon points="77.20,174.35 77.64,175.29 78.67,175.42 77.91,176.13 78.11,177.15 77.20,176.65 76.29,177.15 76.49,176.13 75.73,175.42 76.76,175.29" fill="#111"/>
<polygon points="80.80,174.35 81.24,175.29 82.27,175.42 81.51,176.13 81.71,177.15 80.80,176.65 79.89,177.15 80.09,176.13 79.33,175.42 80.36,175.29" fill="#111"/>
<text x="61.00" y="304.50" font-size="7.6" class="lt" textLength="32.75" lengthAdjust="spacingAndGlyphs" fill="#1a1a1a" >Ruxolitinib</text>
<rect x="111.60" y="190.10" width="8.60" height="102.50" fill="#000" stroke="#000" stroke-width="0.7"/>
<path d="M130.45,289.17V286.40M128.25,286.40h4.4" stroke="#000" stroke-width="0.9" fill="none"/>
<rect x="126.15" y="289.17" width="8.60" height="3.43" fill="#0038b4" stroke="#000" stroke-width="0.7"/>
<path d="M145.00,279.07V273.07M142.80,273.07h4.4" stroke="#000" stroke-width="0.9" fill="none"/>
<rect x="140.70" y="279.07" width="8.60" height="13.53" fill="#c8001a" stroke="#000" stroke-width="0.7"/>
<line x1="130.45" y1="292.60" x2="130.45" y2="295.30" stroke="#000" stroke-width="1.0" />
<line x1="113.70" y1="179.90" x2="146.70" y2="179.90" stroke="#000" stroke-width="1.2" />
<polygon points="124.95,174.35 125.39,175.29 126.42,175.42 125.66,176.13 125.86,177.15 124.95,176.65 124.04,177.15 124.24,176.13 123.48,175.42 124.51,175.29" fill="#111"/>
<polygon points="128.55,174.35 128.99,175.29 130.02,175.42 129.26,176.13 129.46,177.15 128.55,176.65 127.64,177.15 127.84,176.13 127.08,175.42 128.11,175.29" fill="#111"/>
<polygon points="132.15,174.35 132.59,175.29 133.62,175.42 132.86,176.13 133.06,177.15 132.15,176.65 131.24,177.15 131.44,176.13 130.68,175.42 131.71,175.29" fill="#111"/>
<polygon points="135.75,174.35 136.19,175.29 137.22,175.42 136.46,176.13 136.66,177.15 135.75,176.65 134.84,177.15 135.04,176.13 134.28,175.42 135.31,175.29" fill="#111"/>
<text x="113.70" y="304.50" font-size="7.6" class="lt" textLength="33.20" lengthAdjust="spacingAndGlyphs" fill="#1a1a1a" >Tofacitinib</text>
<rect x="164.60" y="190.10" width="8.60" height="102.50" fill="#000" stroke="#000" stroke-width="0.7"/>
<path d="M183.45,291.58V290.96M181.25,290.96h4.4" stroke="#000" stroke-width="0.9" fill="none"/>
<rect x="179.15" y="291.58" width="8.60" height="1.02" fill="#0038b4" stroke="#000" stroke-width="0.7"/>
<path d="M198.00,287.58V285.68M195.80,285.68h4.4" stroke="#000" stroke-width="0.9" fill="none"/>
<rect x="193.70" y="287.58" width="8.60" height="5.02" fill="#c8001a" stroke="#000" stroke-width="0.7"/>
<line x1="183.45" y1="292.60" x2="183.45" y2="295.30" stroke="#000" stroke-width="1.0" />
<line x1="166.80" y1="179.90" x2="199.80" y2="179.90" stroke="#000" stroke-width="1.2" />
<polygon points="177.55,174.35 177.99,175.29 179.02,175.42 178.26,176.13 178.46,177.15 177.55,176.65 176.64,177.15 176.84,176.13 176.08,175.42 177.11,175.29" fill="#111"/>
<polygon points="181.15,174.35 181.59,175.29 182.62,175.42 181.86,176.13 182.06,177.15 181.15,176.65 180.24,177.15 180.44,176.13 179.68,175.42 180.71,175.29" fill="#111"/>
<polygon points="184.75,174.35 185.19,175.29 186.22,175.42 185.46,176.13 185.66,177.15 184.75,176.65 183.84,177.15 184.04,176.13 183.28,175.42 184.31,175.29" fill="#111"/>
<polygon points="188.35,174.35 188.79,175.29 189.82,175.42 189.06,176.13 189.26,177.15 188.35,176.65 187.44,177.15 187.64,176.13 186.88,175.42 187.91,175.29" fill="#111"/>
<text x="160.80" y="304.50" font-size="7.6" class="lt" textLength="43.60" lengthAdjust="spacingAndGlyphs" fill="#1a1a1a" >JAK inhibitor I</text>
<line x1="247.45" y1="188.70" x2="247.45" y2="292.30" stroke="#000" stroke-width="1.1" />
<line x1="246.95" y1="291.80" x2="401.30" y2="291.80" stroke="#000" stroke-width="1.1" />
<line x1="244.15" y1="291.80" x2="247.45" y2="291.80" stroke="#000" stroke-width="1.0" />
<text x="242.00" y="294.10" font-size="6.4" text-anchor="end" textLength="4.50" lengthAdjust="spacingAndGlyphs" fill="#1a1a1a" >0</text>
<line x1="244.15" y1="271.20" x2="247.45" y2="271.20" stroke="#000" stroke-width="1.0" />
<text x="242.00" y="273.50" font-size="6.4" text-anchor="end" textLength="13.50" lengthAdjust="spacingAndGlyphs" fill="#1a1a1a" >100</text>
<line x1="244.15" y1="250.60" x2="247.45" y2="250.60" stroke="#000" stroke-width="1.0" />
<text x="242.00" y="252.90" font-size="6.4" text-anchor="end" textLength="13.50" lengthAdjust="spacingAndGlyphs" fill="#1a1a1a" >200</text>
<line x1="244.15" y1="230.00" x2="247.45" y2="230.00" stroke="#000" stroke-width="1.0" />
<text x="242.00" y="232.30" font-size="6.4" text-anchor="end" textLength="13.50" lengthAdjust="spacingAndGlyphs" fill="#1a1a1a" >300</text>
<line x1="244.15" y1="209.40" x2="247.45" y2="209.40" stroke="#000" stroke-width="1.0" />
<text x="242.00" y="211.70" font-size="6.4" text-anchor="end" textLength="13.50" lengthAdjust="spacingAndGlyphs" fill="#1a1a1a" >400</text>
<line x1="244.15" y1="188.80" x2="247.45" y2="188.80" stroke="#000" stroke-width="1.0" />
<text x="242.00" y="191.10" font-size="6.4" text-anchor="end" textLength="13.50" lengthAdjust="spacingAndGlyphs" fill="#1a1a1a" >500</text>
<text x="222.30" y="240.70" font-size="9.6" text-anchor="middle" textLength="11.80" lengthAdjust="spacingAndGlyphs" fill="#1a1a1a" transform="rotate(-90 222.30 240.70)" >AUC</text>
<path d="M257.25,209.40V205.28M255.05,205.28h4.4" stroke="#000" stroke-width="0.9" fill="none"/>
<rect x="252.90" y="209.40" width="8.70" height="82.40" fill="#000" stroke="#000" stroke-width="0.7"/>
<path d="M271.65,251.63V247.92M269.45,247.92h4.4" stroke="#000" stroke-width="0.9" fill="none"/>
<rect x="267.30" y="251.63" width="8.70" height="40.17" fill="#0038b4" stroke="#000" stroke-width="0.7"/>
<path d="M286.05,242.36V238.24M283.85,238.24h4.4" stroke="#000" stroke-width="0.9" fill="none"/>
<rect x="281.70" y="242.36" width="8.70" height="49.44" fill="#c8001a" stroke="#000" stroke-width="0.7"/>
<line x1="271.50" y1="291.80" x2="271.50" y2="294.50" stroke="#000" stroke-width="1.0" />
<line x1="255.00" y1="191.30" x2="288.00" y2="191.30" stroke="#000" stroke-width="1.2" />
<polygon points="265.85,185.35 266.29,186.29 267.32,186.42 266.56,187.13 266.76,188.15 265.85,187.65 264.94,188.15 265.14,187.13 264.38,186.42 265.41,186.29" fill="#111"/>
<polygon points="269.45,185.35 269.89,186.29 270.92,186.42 270.16,187.13 270.36,188.15 269.45,187.65 268.54,188.15 268.74,187.13 267.98,186.42 269.01,186.29" fill="#111"/>
<polygon points="273.05,185.35 273.49,186.29 274.52,186.42 273.76,187.13 273.96,188.15 273.05,187.65 272.14,188.15 272.34,187.13 271.58,186.42 272.61,186.29" fill="#111"/>
<polygon points="276.65,185.35 277.09,186.29 278.12,186.42 277.36,187.13 277.56,188.15 276.65,187.65 275.74,188.15 275.94,187.13 275.18,186.42 276.21,186.29" fill="#111"/>
<text x="254.70" y="304.50" font-size="7.6" class="lt" textLength="33.50" lengthAdjust="spacingAndGlyphs" fill="#1a1a1a" >Ruxolitinib</text>
<path d="M310.35,210.43V205.69M308.15,205.69h4.4" stroke="#000" stroke-width="0.9" fill="none"/>
<rect x="306.00" y="210.43" width="8.70" height="81.37" fill="#000" stroke="#000" stroke-width="0.7"/>
<path d="M324.75,240.30V235.77M322.55,235.77h4.4" stroke="#000" stroke-width="0.9" fill="none"/>
<rect x="320.40" y="240.30" width="8.70" height="51.50" fill="#0038b4" stroke="#000" stroke-width="0.7"/>
<path d="M339.15,229.59V223.82M336.95,223.82h4.4" stroke="#000" stroke-width="0.9" fill="none"/>
<rect x="334.80" y="229.59" width="8.70" height="62.21" fill="#c8001a" stroke="#000" stroke-width="0.7"/>
<line x1="324.60" y1="291.80" x2="324.60" y2="294.50" stroke="#000" stroke-width="1.0" />
<line x1="307.10" y1="191.30" x2="340.10" y2="191.30" stroke="#000" stroke-width="1.2" />
<polygon points="322.70,185.35 323.14,186.29 324.17,186.42 323.41,187.13 323.61,188.15 322.70,187.65 321.79,188.15 321.99,187.13 321.23,186.42 322.26,186.29" fill="#111"/>
<polygon points="326.30,185.35 326.74,186.29 327.77,186.42 327.01,187.13 327.21,188.15 326.30,187.65 325.39,188.15 325.59,187.13 324.83,186.42 325.86,186.29" fill="#111"/>
<polygon points="329.90,185.35 330.34,186.29 331.37,186.42 330.61,187.13 330.81,188.15 329.90,187.65 328.99,188.15 329.19,187.13 328.43,186.42 329.46,186.29" fill="#111"/>
<text x="307.80" y="304.50" font-size="7.6" class="lt" textLength="33.20" lengthAdjust="spacingAndGlyphs" fill="#1a1a1a" >Tofacitinib</text>
<path d="M363.45,213.93V210.02M361.25,210.02h4.4" stroke="#000" stroke-width="0.9" fill="none"/>
<rect x="359.10" y="213.93" width="8.70" height="77.87" fill="#000" stroke="#000" stroke-width="0.7"/>
<path d="M377.85,247.10V242.36M375.65,242.36h4.4" stroke="#000" stroke-width="0.9" fill="none"/>
<rect x="373.50" y="247.10" width="8.70" height="44.70" fill="#0038b4" stroke="#000" stroke-width="0.7"/>
<path d="M392.25,237.83V234.53M390.05,234.53h4.4" stroke="#000" stroke-width="0.9" fill="none"/>
<rect x="387.90" y="237.83" width="8.70" height="53.97" fill="#c8001a" stroke="#000" stroke-width="0.7"/>
<line x1="377.70" y1="291.80" x2="377.70" y2="294.50" stroke="#000" stroke-width="1.0" />
<line x1="358.75" y1="191.30" x2="391.75" y2="191.30" stroke="#000" stroke-width="1.2" />
<polygon points="369.60,185.35 370.04,186.29 371.07,186.42 370.31,187.13 370.51,188.15 369.60,187.65 368.69,188.15 368.89,187.13 368.13,186.42 369.16,186.29" fill="#111"/>
<polygon points="373.20,185.35 373.64,186.29 374.67,186.42 373.91,187.13 374.11,188.15 373.20,187.65 372.29,188.15 372.49,187.13 371.73,186.42 372.76,186.29" fill="#111"/>
<polygon points="376.80,185.35 377.24,186.29 378.27,186.42 377.51,187.13 377.71,188.15 376.80,187.65 375.89,188.15 376.09,187.13 375.33,186.42 376.36,186.29" fill="#111"/>
<polygon points="380.40,185.35 380.84,186.29 381.87,186.42 381.11,187.13 381.31,188.15 380.40,187.65 379.49,188.15 379.69,187.13 378.93,186.42 379.96,186.29" fill="#111"/>
<text x="355.20" y="304.50" font-size="7.6" class="lt" textLength="44.20" lengthAdjust="spacingAndGlyphs" fill="#1a1a1a" >JAK inhibitor I</text>
<rect x="413.60" y="184.00" width="10.50" height="5.10" fill="#000" stroke="#000" stroke-width="0.8"/>
<text x="430.70" y="189.00" font-size="7.3" textLength="31.20" lengthAdjust="spacingAndGlyphs" fill="#1a1a1a" >BCR-ABL</text>
<rect x="413.60" y="198.10" width="10.50" height="5.10" fill="#0038b4" stroke="#000" stroke-width="0.8"/>
<text x="430.7" y="203.10" font-size="7.3" fill="#1a1a1a" textLength="39.0" lengthAdjust="spacingAndGlyphs"><tspan font-style="italic">JAK1</tspan>A634D</text>
<rect x="413.60" y="212.20" width="10.50" height="5.10" fill="#c8001a" stroke="#000" stroke-width="0.8"/>
<text x="430.7" y="217.20" font-size="7.3" fill="#1a1a1a" textLength="82.3" lengthAdjust="spacingAndGlyphs"><tspan font-style="italic">JAK1</tspan>R629_S632delinsSA</text>
<text x="51.25" y="348.10" font-size="7.4" textLength="33.80" lengthAdjust="spacingAndGlyphs" fill="#1a1a1a" >BCR-ABL</text>
<text x="112.1" y="348.7" font-size="7.4" fill="#1a1a1a" textLength="41.7" lengthAdjust="spacingAndGlyphs"><tspan font-style="italic">JAK1</tspan>A634D</text>
<text x="168.7" y="339.8" font-size="7.4" fill="#1a1a1a" textLength="57.8" lengthAdjust="spacingAndGlyphs"><tspan font-style="italic">JAK1</tspan>R629_S632</text>
<text x="182.00" y="348.70" font-size="7.4" textLength="29.70" lengthAdjust="spacingAndGlyphs" fill="#1a1a1a" >delinsSA</text>
<line x1="37.50" y1="351.90" x2="97.60" y2="351.90" stroke="#000" stroke-width="1.1" />
<line x1="102.50" y1="351.90" x2="162.70" y2="351.90" stroke="#000" stroke-width="1.1" />
<line x1="166.80" y1="351.90" x2="226.60" y2="351.90" stroke="#000" stroke-width="1.1" />
<text x="47.50" y="364.30" font-size="7.2" text-anchor="middle" textLength="4.20" lengthAdjust="spacingAndGlyphs" fill="#1a1a1a" >0</text>
<text x="69.00" y="364.30" font-size="7.2" text-anchor="middle" textLength="12.90" lengthAdjust="spacingAndGlyphs" fill="#1a1a1a" >250</text>
<text x="90.00" y="364.30" font-size="7.2" text-anchor="middle" textLength="12.90" lengthAdjust="spacingAndGlyphs" fill="#1a1a1a" >500</text>
<text x="111.20" y="364.30" font-size="7.2" text-anchor="middle" textLength="4.20" lengthAdjust="spacingAndGlyphs" fill="#1a1a1a" >0</text>
<text x="133.20" y="364.30" font-size="7.2" text-anchor="middle" textLength="12.90" lengthAdjust="spacingAndGlyphs" fill="#1a1a1a" >250</text>
<text x="155.00" y="364.30" font-size="7.2" text-anchor="middle" textLength="12.90" lengthAdjust="spacingAndGlyphs" fill="#1a1a1a" >500</text>
<text x="174.90" y="364.30" font-size="7.2" text-anchor="middle" textLength="4.20" lengthAdjust="spacingAndGlyphs" fill="#1a1a1a" >0</text>
<text x="195.60" y="364.30" font-size="7.2" text-anchor="middle" textLength="12.90" lengthAdjust="spacingAndGlyphs" fill="#1a1a1a" >250</text>
<text x="217.20" y="364.30" font-size="7.2" text-anchor="middle" textLength="12.90" lengthAdjust="spacingAndGlyphs" fill="#1a1a1a" >500</text>
<text x="237.50" y="361.00" font-size="7.2" textLength="50.50" lengthAdjust="spacingAndGlyphs" fill="#1a1a1a" >Ruxolitinib (nM)</text>
<text x="237.50" y="375.30" font-size="7.2" textLength="28.00" lengthAdjust="spacingAndGlyphs" fill="#1a1a1a" >p-STAT5</text>
<text x="237.50" y="389.30" font-size="7.2" textLength="21.30" lengthAdjust="spacingAndGlyphs" fill="#1a1a1a" >STAT5</text>
<text x="237.50" y="403.40" font-size="7.2" textLength="35.50" lengthAdjust="spacingAndGlyphs" fill="#1a1a1a" >VINCULIN</text>
<defs><filter id="bl" x="-20%" y="-60%" width="140%" height="220%"><feGaussianBlur stdDeviation="0.55 0.6"/></filter><filter id="bl2" x="-50%" y="-20%" width="200%" height="140%"><feGaussianBlur stdDeviation="0.8"/></filter></defs>
<rect x="37.90" y="367.50" width="189.60" height="38.30" fill="#f6f6f6"/>
<g filter="url(#bl2)">
<rect x="37.90" y="367.50" width="189.60" height="10.60" fill="#e2e2e2"/>
<rect x="37.90" y="380.30" width="189.60" height="9.80" fill="#bdbdbd"/>
<rect x="37.90" y="394.40" width="189.60" height="10.60" fill="#c8c8c8"/>
<rect x="56.90" y="367.50" width="2.20" height="37.50" fill="#e6e6e6"/>
<rect x="78.00" y="367.50" width="2.20" height="37.50" fill="#e6e6e6"/>
<rect x="99.10" y="367.50" width="2.20" height="37.50" fill="#e6e6e6"/>
<rect x="120.20" y="367.50" width="2.20" height="37.50" fill="#e6e6e6"/>
<rect x="141.50" y="367.50" width="2.20" height="37.50" fill="#e6e6e6"/>
<rect x="162.70" y="367.50" width="2.20" height="37.50" fill="#e6e6e6"/>
<rect x="184.10" y="367.50" width="2.20" height="37.50" fill="#e6e6e6"/>
<rect x="204.80" y="367.50" width="2.20" height="37.50" fill="#e6e6e6"/>
</g>
<g filter="url(#bl)">
<rect x="38.00" y="370.65" width="18.8" height="3.30" rx="1.65" fill="#333"/>
<rect x="59.10" y="370.75" width="18.8" height="3.10" rx="1.55" fill="#3e3e3e"/>
<rect x="80.20" y="370.70" width="18.8" height="3.20" rx="1.60" fill="#3a3a3a"/>
<rect x="101.30" y="370.30" width="18.8" height="6.20" rx="1.80" fill="#000"/>
<rect x="122.60" y="371.30" width="18.8" height="3.00" rx="1.50" fill="#5e5e5e"/>
<rect x="143.80" y="371.60" width="18.8" height="2.40" rx="1.20" fill="#bcbcbc"/>
<rect x="165.20" y="370.00" width="18.8" height="6.40" rx="1.80" fill="#000"/>
<rect x="185.90" y="371.80" width="18.8" height="2.00" rx="1.00" fill="#cdcdcd"/>
<rect x="206.40" y="371.90" width="18.8" height="1.80" rx="0.90" fill="#d6d6d6"/>
<rect x="38.00" y="383.10" width="18.8" height="5.00" rx="1.80" fill="#151515"/>
<rect x="59.10" y="383.15" width="18.8" height="4.90" rx="1.80" fill="#1c1c1c"/>
<rect x="80.20" y="383.15" width="18.8" height="4.90" rx="1.80" fill="#1c1c1c"/>
<rect x="101.30" y="382.60" width="18.8" height="6.80" rx="1.80" fill="#000"/>
<rect x="122.60" y="382.80" width="18.8" height="6.40" rx="1.80" fill="#0a0a0a"/>
<rect x="143.80" y="383.10" width="18.8" height="5.80" rx="1.80" fill="#161616"/>
<rect x="165.20" y="382.70" width="18.8" height="6.60" rx="1.80" fill="#000"/>
<rect x="185.90" y="383.30" width="18.8" height="5.40" rx="1.80" fill="#2a2a2a"/>
<rect x="206.40" y="383.20" width="18.8" height="5.60" rx="1.80" fill="#1a1a1a"/>
<rect x="38.00" y="396.30" width="18.8" height="4.80" rx="1.80" fill="#111"/>
<rect x="59.10" y="396.40" width="18.8" height="4.60" rx="1.80" fill="#111"/>
<rect x="80.20" y="396.20" width="18.8" height="5.00" rx="1.80" fill="#0c0c0c"/>
<rect x="101.30" y="397.90" width="18.8" height="4.00" rx="1.80" fill="#1e1e1e"/>
<rect x="122.60" y="397.90" width="18.8" height="4.00" rx="1.80" fill="#1c1c1c"/>
<rect x="143.80" y="397.80" width="18.8" height="4.20" rx="1.80" fill="#161616"/>
<rect x="165.20" y="397.90" width="18.8" height="4.00" rx="1.80" fill="#1c1c1c"/>
<rect x="185.90" y="397.90" width="18.8" height="4.00" rx="1.80" fill="#1c1c1c"/>
<rect x="206.40" y="397.90" width="18.8" height="4.00" rx="1.80" fill="#1e1e1e"/>
</g>
<rect x="37.90" y="367.50" width="189.60" height="38.30" fill="none" stroke="#000" stroke-width="1.3"/>
<line x1="71.70" y1="443.10" x2="71.70" y2="533.60" stroke="#000" stroke-width="1.1" />
<line x1="71.20" y1="533.10" x2="162.70" y2="533.10" stroke="#000" stroke-width="1.1" />
<line x1="68.10" y1="533.10" x2="71.70" y2="533.10" stroke="#000" stroke-width="1.0" />
<text x="65.80" y="535.40" font-size="6.6" text-anchor="end" textLength="4.42" lengthAdjust="spacingAndGlyphs" fill="#1a1a1a" >0</text>
<line x1="68.10" y1="488.18" x2="71.70" y2="488.18" stroke="#000" stroke-width="1.0" />
<text x="65.80" y="490.48" font-size="6.6" text-anchor="end" textLength="17.68" lengthAdjust="spacingAndGlyphs" fill="#1a1a1a" >5000</text>
<line x1="68.10" y1="443.25" x2="71.70" y2="443.25" stroke="#000" stroke-width="1.0" />
<text x="65.80" y="445.55" font-size="6.6" text-anchor="end" textLength="22.10" lengthAdjust="spacingAndGlyphs" fill="#1a1a1a" >10000</text>
<line x1="85.50" y1="533.10" x2="85.50" y2="536.40" stroke="#000" stroke-width="1.0" />
<line x1="106.40" y1="533.10" x2="106.40" y2="536.40" stroke="#000" stroke-width="1.0" />
<line x1="127.30" y1="533.10" x2="127.30" y2="536.40" stroke="#000" stroke-width="1.0" />
<line x1="148.10" y1="533.10" x2="148.10" y2="536.40" stroke="#000" stroke-width="1.0" />
<text x="88.70" y="543.10" font-size="7.2" fill="#1a1a1a" text-anchor="end" transform="rotate(-45 88.70 543.10)" textLength="10.50" lengthAdjust="spacingAndGlyphs">HD</text>
<text x="109.60" y="543.10" font-size="7.2" fill="#1a1a1a" text-anchor="end" transform="rotate(-45 109.60 543.10)" textLength="19.80" lengthAdjust="spacingAndGlyphs">MPNs</text>
<text x="130.50" y="543.10" font-size="7.2" fill="#1a1a1a" text-anchor="end" transform="rotate(-45 130.50 543.10)" textLength="52.96" lengthAdjust="spacingAndGlyphs">Peripheral blood</text>
<text x="151.30" y="543.10" font-size="7.2" fill="#1a1a1a" text-anchor="end" transform="rotate(-45 151.30 543.10)" textLength="43.24" lengthAdjust="spacingAndGlyphs">Bone marrow</text>
<line x1="99.80" y1="443.25" x2="113.00" y2="443.25" stroke="#c8001a" stroke-width="1.8" stroke-linecap="round"/>
<line x1="106.40" y1="445.10" x2="106.40" y2="448.40" stroke="#c8001a" stroke-width="2.1" stroke-linecap="round"/>
<circle cx="106.40" cy="451.10" r="1.15" fill="#c8001a"/>
<line x1="106.40" y1="454.30" x2="106.40" y2="457.70" stroke="#c8001a" stroke-width="2.1" stroke-linecap="round"/>
<circle cx="106.40" cy="461.70" r="1.15" fill="#c8001a"/>
<line x1="106.40" y1="465.60" x2="106.40" y2="467.10" stroke="#c8001a" stroke-width="2.1" stroke-linecap="round"/>
<line x1="106.40" y1="473.80" x2="106.40" y2="481.40" stroke="#c8001a" stroke-width="2.1" stroke-linecap="round"/>
<circle cx="106.40" cy="485.80" r="1.15" fill="#c8001a"/>
<circle cx="106.40" cy="491.70" r="1.15" fill="#c8001a"/>
<line x1="106.40" y1="494.10" x2="106.40" y2="507.80" stroke="#c8001a" stroke-width="2.1" stroke-linecap="round"/>
<line x1="106.40" y1="514.80" x2="106.40" y2="520.40" stroke="#c8001a" stroke-width="2.1" stroke-linecap="round"/>
<circle cx="106.40" cy="523.20" r="1.15" fill="#c8001a"/>
<line x1="106.40" y1="526.50" x2="106.40" y2="532.70" stroke="#c8001a" stroke-width="2.1" stroke-linecap="round"/>
<line x1="78.50" y1="443.25" x2="92.50" y2="443.25" stroke="#222" stroke-width="1.4"/>
<line x1="99.40" y1="443.25" x2="113.40" y2="443.25" stroke="#222" stroke-width="1.4"/>
<line x1="120.30" y1="443.25" x2="134.30" y2="443.25" stroke="#222" stroke-width="1.4"/>
<line x1="141.10" y1="443.25" x2="155.10" y2="443.25" stroke="#222" stroke-width="1.4"/>
<circle cx="83.70" cy="443.25" r="1.2" fill="#0038b4"/>
<circle cx="87.40" cy="443.25" r="1.2" fill="#0038b4"/>
<circle cx="85.50" cy="457.63" r="1.2" fill="#0038b4"/>
<circle cx="127.30" cy="443.25" r="1.2" fill="#0038b4"/>
<circle cx="148.10" cy="443.25" r="1.2" fill="#0038b4"/>
<text x="37.90" y="488.50" font-size="9.2" fill="#1a1a1a" text-anchor="middle" transform="rotate(-90 37.90 488.50)" textLength="58.7" lengthAdjust="spacingAndGlyphs">Ruxolitinib IC<tspan font-size="6" dy="2">50</tspan><tspan dy="-2"> (nM)</tspan></text>
<line x1="228.00" y1="443.10" x2="228.00" y2="533.60" stroke="#000" stroke-width="1.1" />
<line x1="227.50" y1="533.10" x2="319.00" y2="533.10" stroke="#000" stroke-width="1.1" />
<line x1="224.40" y1="533.10" x2="228.00" y2="533.10" stroke="#000" stroke-width="1.0" />
<text x="222.10" y="535.40" font-size="6.6" text-anchor="end" textLength="4.42" lengthAdjust="spacingAndGlyphs" fill="#1a1a1a" >0</text>
<line x1="224.40" y1="488.18" x2="228.00" y2="488.18" stroke="#000" stroke-width="1.0" />
<text x="222.10" y="490.48" font-size="6.6" text-anchor="end" textLength="17.68" lengthAdjust="spacingAndGlyphs" fill="#1a1a1a" >5000</text>
<line x1="224.40" y1="443.25" x2="228.00" y2="443.25" stroke="#000" stroke-width="1.0" />
<text x="222.10" y="445.55" font-size="6.6" text-anchor="end" textLength="22.10" lengthAdjust="spacingAndGlyphs" fill="#1a1a1a" >10000</text>
<line x1="242.00" y1="533.10" x2="242.00" y2="536.40" stroke="#000" stroke-width="1.0" />
<line x1="262.90" y1="533.10" x2="262.90" y2="536.40" stroke="#000" stroke-width="1.0" />
<line x1="283.80" y1="533.10" x2="283.80" y2="536.40" stroke="#000" stroke-width="1.0" />
<line x1="304.60" y1="533.10" x2="304.60" y2="536.40" stroke="#000" stroke-width="1.0" />
<text x="245.20" y="543.10" font-size="7.2" fill="#1a1a1a" text-anchor="end" transform="rotate(-45 245.20 543.10)" textLength="10.50" lengthAdjust="spacingAndGlyphs">HD</text>
<text x="266.10" y="543.10" font-size="7.2" fill="#1a1a1a" text-anchor="end" transform="rotate(-45 266.10 543.10)" textLength="19.80" lengthAdjust="spacingAndGlyphs">MPNs</text>
<text x="287.00" y="543.10" font-size="7.2" fill="#1a1a1a" text-anchor="end" transform="rotate(-45 287.00 543.10)" textLength="52.96" lengthAdjust="spacingAndGlyphs">Peripheral blood</text>
<text x="307.80" y="543.10" font-size="7.2" fill="#1a1a1a" text-anchor="end" transform="rotate(-45 307.80 543.10)" textLength="43.24" lengthAdjust="spacingAndGlyphs">Bone marrow</text>
<line x1="256.30" y1="443.25" x2="269.50" y2="443.25" stroke="#c8001a" stroke-width="1.8" stroke-linecap="round"/>
<circle cx="262.90" cy="446.00" r="1.15" fill="#c8001a"/>
<line x1="262.90" y1="450.00" x2="262.90" y2="451.80" stroke="#c8001a" stroke-width="2.1" stroke-linecap="round"/>
<circle cx="262.90" cy="456.00" r="1.15" fill="#c8001a"/>
<circle cx="262.90" cy="459.90" r="1.15" fill="#c8001a"/>
<circle cx="262.90" cy="463.60" r="1.15" fill="#c8001a"/>
<line x1="262.90" y1="466.10" x2="262.90" y2="466.20" stroke="#c8001a" stroke-width="2.1" stroke-linecap="round"/>
<circle cx="262.90" cy="469.00" r="1.15" fill="#c8001a"/>
<circle cx="262.90" cy="472.70" r="1.15" fill="#c8001a"/>
<line x1="262.90" y1="476.30" x2="262.90" y2="479.80" stroke="#c8001a" stroke-width="2.1" stroke-linecap="round"/>
<line x1="262.90" y1="482.60" x2="262.90" y2="506.10" stroke="#c8001a" stroke-width="2.1" stroke-linecap="round"/>
<line x1="262.90" y1="508.80" x2="262.90" y2="532.70" stroke="#c8001a" stroke-width="2.1" stroke-linecap="round"/>
<line x1="235.00" y1="463.65" x2="249.00" y2="463.65" stroke="#222" stroke-width="1.4"/>
<line x1="255.90" y1="463.65" x2="269.90" y2="463.65" stroke="#222" stroke-width="1.4"/>
<line x1="276.80" y1="508.75" x2="290.80" y2="508.75" stroke="#222" stroke-width="1.4"/>
<line x1="297.60" y1="498.96" x2="311.60" y2="498.96" stroke="#222" stroke-width="1.4"/>
<circle cx="242.00" cy="443.25" r="1.2" fill="#0038b4"/>
<circle cx="242.00" cy="463.65" r="1.2" fill="#0038b4"/>
<circle cx="242.00" cy="480.99" r="1.2" fill="#0038b4"/>
<circle cx="283.80" cy="508.75" r="1.2" fill="#0038b4"/>
<circle cx="304.60" cy="498.96" r="1.2" fill="#0038b4"/>
<text x="198.60" y="488.30" font-size="9.2" fill="#1a1a1a" text-anchor="middle" transform="rotate(-90 198.60 488.30)" textLength="57.6" lengthAdjust="spacingAndGlyphs">Tofacitinib IC<tspan font-size="6" dy="2">50</tspan><tspan dy="-2"> (nM)</tspan></text>
<line x1="385.30" y1="443.10" x2="385.30" y2="533.60" stroke="#000" stroke-width="1.1" />
<line x1="384.80" y1="533.10" x2="476.30" y2="533.10" stroke="#000" stroke-width="1.1" />
<line x1="381.70" y1="533.10" x2="385.30" y2="533.10" stroke="#000" stroke-width="1.0" />
<text x="379.40" y="535.40" font-size="6.6" text-anchor="end" textLength="4.42" lengthAdjust="spacingAndGlyphs" fill="#1a1a1a" >0</text>
<line x1="381.70" y1="488.18" x2="385.30" y2="488.18" stroke="#000" stroke-width="1.0" />
<text x="379.40" y="490.48" font-size="6.6" text-anchor="end" textLength="17.68" lengthAdjust="spacingAndGlyphs" fill="#1a1a1a" >5000</text>
<line x1="381.70" y1="443.25" x2="385.30" y2="443.25" stroke="#000" stroke-width="1.0" />
<text x="379.40" y="445.55" font-size="6.6" text-anchor="end" textLength="22.10" lengthAdjust="spacingAndGlyphs" fill="#1a1a1a" >10000</text>
<line x1="399.60" y1="533.10" x2="399.60" y2="536.40" stroke="#000" stroke-width="1.0" />
<line x1="420.40" y1="533.10" x2="420.40" y2="536.40" stroke="#000" stroke-width="1.0" />
<line x1="441.20" y1="533.10" x2="441.20" y2="536.40" stroke="#000" stroke-width="1.0" />
<line x1="462.00" y1="533.10" x2="462.00" y2="536.40" stroke="#000" stroke-width="1.0" />
<text x="402.80" y="543.10" font-size="7.2" fill="#1a1a1a" text-anchor="end" transform="rotate(-45 402.80 543.10)" textLength="10.50" lengthAdjust="spacingAndGlyphs">HD</text>
<text x="423.60" y="543.10" font-size="7.2" fill="#1a1a1a" text-anchor="end" transform="rotate(-45 423.60 543.10)" textLength="19.80" lengthAdjust="spacingAndGlyphs">MPNs</text>
<text x="444.40" y="543.10" font-size="7.2" fill="#1a1a1a" text-anchor="end" transform="rotate(-45 444.40 543.10)" textLength="52.96" lengthAdjust="spacingAndGlyphs">Peripheral blood</text>
<text x="465.20" y="543.10" font-size="7.2" fill="#1a1a1a" text-anchor="end" transform="rotate(-45 465.20 543.10)" textLength="43.24" lengthAdjust="spacingAndGlyphs">Bone marrow</text>
<line x1="413.80" y1="443.25" x2="427.00" y2="443.25" stroke="#c8001a" stroke-width="1.8" stroke-linecap="round"/>
<line x1="420.40" y1="446.60" x2="420.40" y2="448.00" stroke="#c8001a" stroke-width="2.1" stroke-linecap="round"/>
<circle cx="420.40" cy="452.40" r="1.15" fill="#c8001a"/>
<circle cx="420.40" cy="461.70" r="1.15" fill="#c8001a"/>
<circle cx="420.40" cy="475.30" r="1.15" fill="#c8001a"/>
<line x1="420.40" y1="480.10" x2="420.40" y2="481.90" stroke="#c8001a" stroke-width="2.1" stroke-linecap="round"/>
<circle cx="420.40" cy="487.00" r="1.15" fill="#c8001a"/>
<circle cx="420.40" cy="490.40" r="1.15" fill="#c8001a"/>
<circle cx="420.40" cy="498.30" r="1.15" fill="#c8001a"/>
<line x1="420.40" y1="503.10" x2="420.40" y2="503.70" stroke="#c8001a" stroke-width="2.1" stroke-linecap="round"/>
<line x1="420.40" y1="508.50" x2="420.40" y2="510.90" stroke="#c8001a" stroke-width="2.1" stroke-linecap="round"/>
<line x1="420.40" y1="514.80" x2="420.40" y2="515.40" stroke="#c8001a" stroke-width="2.1" stroke-linecap="round"/>
<line x1="420.40" y1="518.80" x2="420.40" y2="532.70" stroke="#c8001a" stroke-width="2.1" stroke-linecap="round"/>
<line x1="392.60" y1="443.25" x2="406.60" y2="443.25" stroke="#222" stroke-width="1.4"/>
<line x1="413.40" y1="443.25" x2="427.40" y2="443.25" stroke="#222" stroke-width="1.4"/>
<line x1="434.20" y1="511.72" x2="448.20" y2="511.72" stroke="#222" stroke-width="1.4"/>
<line x1="455.00" y1="516.21" x2="469.00" y2="516.21" stroke="#222" stroke-width="1.4"/>
<circle cx="399.60" cy="443.25" r="1.2" fill="#0038b4"/>
<circle cx="441.20" cy="511.54" r="1.2" fill="#0038b4"/>
<circle cx="462.00" cy="516.03" r="1.2" fill="#0038b4"/>
<text x="354.60" y="489.15" font-size="9.2" fill="#1a1a1a" text-anchor="middle" transform="rotate(-90 354.60 489.15)" textLength="71.1" lengthAdjust="spacingAndGlyphs">JAK inhibitor I IC<tspan font-size="6" dy="2">50</tspan><tspan dy="-2"> (nM)</tspan></text>
</svg></body></html>
